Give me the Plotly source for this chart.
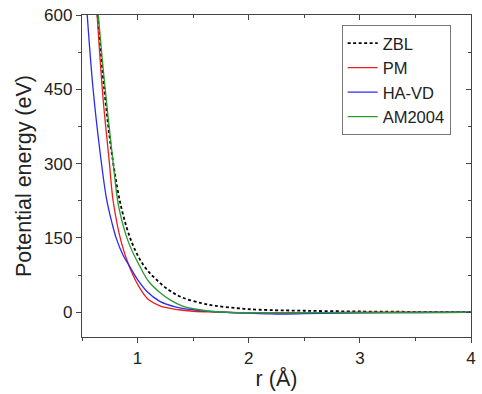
import plotly.graph_objects as go

# ZBL (dashed black)
zbl_r = [0.64, 0.70, 0.775, 0.855, 0.95, 1.05, 1.15, 1.28, 1.40, 1.58, 1.70, 1.90, 2.10, 2.50, 3.00, 3.50, 4.00]
zbl_e = [600, 450, 310, 210, 140, 96, 70, 45, 30, 18, 13, 8, 5, 3, 1.5, 0.8, 0.4]

# PM (red)
pm_r = [0.636, 0.69, 0.745, 0.78, 0.855, 0.93, 1.03, 1.10, 1.20, 1.37, 1.50, 1.70, 2.00, 2.50, 3.00, 4.00]
pm_e = [600, 430, 305, 225, 140, 90, 45, 25, 13, 5, 2, 0.5, -1, -1, -0.5, 0]

# HA-VD (blue)
ha_r = [0.547, 0.60, 0.662, 0.72, 0.77, 0.81, 0.87, 0.93, 1.00, 1.08, 1.20, 1.34, 1.50, 1.70, 2.00, 2.20, 2.50, 3.00, 3.50, 4.00]
ha_e = [600, 450, 324, 230, 180, 148, 115, 92, 66, 43, 22, 11, 5, 1, -2, -3.5, -3, -1, -0.5, 0]

# AM2004 (green)
am_r = [0.647, 0.70, 0.78, 0.833, 0.92, 1.02, 1.10, 1.20, 1.30, 1.40, 1.50, 1.65, 1.80, 2.00, 2.50, 3.00, 4.00]
am_e = [600, 470, 302, 210, 140, 93, 62, 40, 24, 13, 7, 2, 0, -1, -1, -0.5, 0]

x_ticks = [1, 2, 3, 4]
y_ticks = [0, 150, 300, 450, 600]

FONT = "Liberation Sans, Arial, sans-serif"
AX = "#444444"

fig = go.Figure()
fig.add_trace(go.Scatter(x=zbl_r, y=zbl_e, name="ZBL", mode="lines",
                         line=dict(color="black", width=1.8, dash="3px,2.5px", shape="spline", smoothing=1.0)))
fig.add_trace(go.Scatter(x=pm_r, y=pm_e, name="PM", mode="lines",
                         line=dict(color="#ee1c1c", width=1.3, shape="spline", smoothing=1.0)))
fig.add_trace(go.Scatter(x=ha_r, y=ha_e, name="HA-VD", mode="lines",
                         line=dict(color="#2a2af0", width=1.3, shape="spline", smoothing=1.0)))
fig.add_trace(go.Scatter(x=am_r, y=am_e, name="AM2004", mode="lines",
                         line=dict(color="#2a9a2a", width=1.3, shape="spline", smoothing=1.0)))
# invisible trace to create mirrored axes (top/right, inward ticks)
fig.add_trace(go.Scatter(x=[None], y=[None], xaxis="x2", yaxis="y2",
                         showlegend=False, hoverinfo="skip"))

fig.update_layout(
    width=482, height=394,
    margin=dict(l=82, r=6, t=13, b=57),
    paper_bgcolor="white", plot_bgcolor="white",
    font=dict(family=FONT, size=17, color="#222222"),
    showlegend=True,
    legend=dict(x=0.6675, y=0.969, xanchor="left", yanchor="top",
                bgcolor="white", bordercolor="#777777", borderwidth=1,
                font=dict(family=FONT, size=16.5, color="#222222"),
                tracegroupgap=0, itemwidth=30),
    xaxis=dict(range=[0.5, 4], tickvals=x_ticks, ticks="outside", ticklen=5, tickwidth=1,
               tickcolor=AX, showline=True, linecolor=AX, linewidth=1.3, showgrid=False,
               zeroline=False, tickfont=dict(size=17), ticklabeloverflow="allow",
               minor=dict(dtick=0.5, tick0=0.5, ticks="outside", ticklen=3, tickcolor=AX),
               title=dict(text="r (Å)", font=dict(size=21.5), standoff=4)),
    yaxis=dict(range=[-50, 600], tickvals=y_ticks, ticks="outside", ticklen=5, tickwidth=1,
               tickcolor=AX, showline=True, linecolor=AX, linewidth=1.3, showgrid=False,
               zeroline=False, tickfont=dict(size=17), ticklabeloverflow="allow",
               minor=dict(dtick=75, tick0=0, ticks="outside", ticklen=3, tickcolor=AX),
               title=dict(text="Potential energy (eV)", font=dict(size=21.5), standoff=6)),
    xaxis2=dict(range=[0.5, 4], overlaying="x", side="top", anchor="y2",
                tickvals=x_ticks, ticks="inside", ticklen=5, tickcolor=AX,
                showticklabels=False, showline=True, linecolor=AX, linewidth=1.3,
                showgrid=False, zeroline=False,
                minor=dict(dtick=0.5, tick0=0.5, ticks="inside", ticklen=3, tickcolor=AX)),
    yaxis2=dict(range=[-50, 600], overlaying="y", side="right", anchor="x2",
                tickvals=y_ticks, ticks="inside", ticklen=5, tickcolor=AX,
                showticklabels=False, showline=True, linecolor=AX, linewidth=1.3,
                showgrid=False, zeroline=False,
                minor=dict(dtick=75, tick0=0, ticks="inside", ticklen=3, tickcolor=AX)),
)

# remove the browser's default 8px body margin so the figure fills the window
fig.write_html("out.html",
               config={"displayModeBar": False},
               post_script="document.body.style.margin='0';document.body.style.overflow='hidden';")
